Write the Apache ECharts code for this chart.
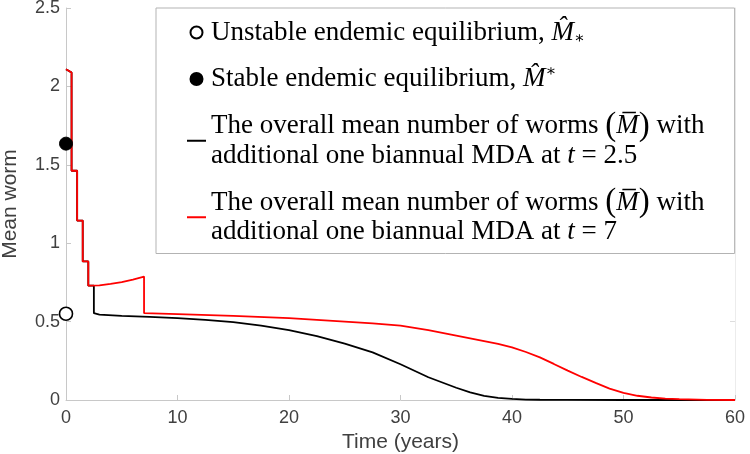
<!DOCTYPE html>
<html>
<head>
<meta charset="utf-8">
<script src="https://cdn.jsdelivr.net/npm/echarts@6/dist/echarts.min.js"></script>
<style>html,body{margin:0;padding:0;background:#fff;}#chart{width:750px;height:454px;}</style>
</head>
<body>
<div id="chart"></div>
<script>
// ---- data ----
const tRed = [0, 0.5, 0.5, 1, 1, 1.5, 1.5, 2, 2, 3, 4, 5, 6, 7, 7, 10, 15, 20, 25, 27.5, 30, 32.5, 35, 37.5, 38.75, 40, 41.25, 42.5, 43.75, 45, 46.25, 47.5, 48.75, 50, 51.25, 52.5, 53.75, 55, 57.5, 60];
const yRed = [2.11, 2.088, 1.462, 1.462, 1.144, 1.144, 0.884, 0.884, 0.729, 0.731, 0.74, 0.752, 0.768, 0.787, 0.554, 0.548, 0.536, 0.522, 0.50, 0.489, 0.474, 0.446, 0.411, 0.376, 0.358, 0.336, 0.306, 0.272, 0.23, 0.187, 0.147, 0.109, 0.073, 0.045, 0.027, 0.016, 0.009, 0.005, 0.001, 0];
const tBlack = [0, 0.5, 0.5, 1, 1, 1.5, 1.5, 2, 2, 2.5, 2.5, 3, 5, 7.5, 10, 12.5, 15, 17.5, 20, 22.5, 25, 27.5, 30, 32.5, 35, 36.25, 37.5, 38.75, 40, 41.25, 42.5, 45, 50, 55, 60];
const yBlack = [2.11, 2.088, 1.462, 1.462, 1.144, 1.144, 0.884, 0.884, 0.729, 0.730, 0.554, 0.545, 0.537, 0.530, 0.522, 0.511, 0.496, 0.474, 0.446, 0.408, 0.359, 0.304, 0.228, 0.145, 0.078, 0.048, 0.027, 0.014, 0.007, 0.003, 0.0015, 0.0004, 0, 0, 0];
const unstablePoint = [0, 0.55];
const stablePoint = [0, 1.635];
const xTicks = [0, 10, 20, 30, 40, 50, 60];
const yTicks = [0, 0.5, 1, 1.5, 2, 2.5];
const legendNames = [
  'Unstable endemic equilibrium',
  'Stable endemic equilibrium',
  'The overall mean number of worms with additional one biannual MDA at t = 2.5',
  'The overall mean number of worms with additional one biannual MDA at t = 7'
];
const legendRich = [
  '{a|Unstable endemic equilibrium, }{m|M\u0302}{sub|\u2217}',
  '{a|Stable endemic equilibrium, }{m|M\u0302}{sup|\u2217}',
  '{a|The overall mean number of worms }{p|(}{m|M\u0305}{p|)}{a| with}\n{a|additional one biannual MDA at }{m|t}{a| = 2.5}',
  '{a|The overall mean number of worms }{p|(}{m|M\u0305}{p|)}{a| with}\n{a|additional one biannual MDA at }{m|t}{a| = 7}'
];

const pairs = (xs, ys) => xs.map((x, i) => [x, ys[i]]);
const serif = "'Liberation Serif', 'DejaVu Serif', serif";
const sans = "'Liberation Sans', Arimo, Helvetica, Arial, sans-serif";

const chart = echarts.init(document.getElementById('chart'), null, {renderer: 'canvas'});
const axisGray = '#c8c8c8';
chart.setOption({
  animation: false,
  backgroundColor: '#fff',
  grid: {left: 66, right: 15, top: 8, bottom: 54, containLabel: false, outerBoundsMode: 'none'},
  xAxis: {
    type: 'value', min: xTicks[0], max: xTicks[xTicks.length - 1], interval: 10,
    name: 'Time (years)', nameLocation: 'middle', nameGap: 23,
    nameTextStyle: {fontFamily: sans, fontSize: 21, color: '#404040'},
    axisLine: {show: true, lineStyle: {color: axisGray, width: 1}},
    axisTick: {show: true, inside: true, length: 5, lineStyle: {color: axisGray}},
    axisLabel: {fontFamily: sans, fontSize: 18, color: '#404040', margin: 9},
    splitLine: {show: false}
  },
  yAxis: [{
    type: 'value', min: yTicks[0], max: yTicks[yTicks.length - 1], interval: 0.5,
    name: 'Mean worm', nameLocation: 'middle', nameGap: 45, nameRotate: 90,
    nameTextStyle: {fontFamily: sans, fontSize: 21, color: '#404040'},
    axisLine: {show: true, lineStyle: {color: axisGray, width: 1}},
    axisTick: {show: true, inside: true, length: 5, lineStyle: {color: axisGray}},
    axisLabel: {fontFamily: sans, fontSize: 18, color: '#404040', margin: 6},
    splitLine: {show: false}
  }, {
    type: 'value', position: 'right', min: yTicks[0], max: yTicks[yTicks.length - 1], interval: 0.5,
    axisLine: {show: true, lineStyle: {color: '#ececec', width: 1}},
    axisTick: {show: true, inside: true, length: 5, lineStyle: {color: '#dddddd'}},
    axisLabel: {show: false},
    splitLine: {show: false}
  }],
  legend: {
    orient: 'vertical', left: 156, top: 8,
    data: [
      {name: legendNames[0]},
      {name: legendNames[1], itemStyle: {color: '#000', borderColor: '#000'}},
      {name: legendNames[2], itemStyle: {opacity: 0}},
      {name: legendNames[3], itemStyle: {opacity: 0}}
    ],
    itemWidth: 19, itemHeight: 12, itemGap: 17,
    padding: [11, 30, 8, 30],
    borderColor: '#b3b3b3', borderWidth: 1, borderRadius: 0,
    backgroundColor: '#fff',
    selectedMode: false,
    formatter: name => legendRich[legendNames.indexOf(name)],
    textStyle: {
      color: '#000',
      rich: {
        a: {fontFamily: serif, fontSize: 27, lineHeight: 29.5, color: '#000'},
        m: {fontFamily: serif, fontSize: 27, lineHeight: 29.5, fontStyle: 'italic', color: '#000'},
        p: {fontFamily: serif, fontSize: 33, lineHeight: 29.5, color: '#000'},
        sub: {fontFamily: serif, fontSize: 16, lineHeight: 16, verticalAlign: 'bottom', color: '#000'},
        sup: {fontFamily: serif, fontSize: 16, lineHeight: 16, verticalAlign: 'top', color: '#000'}
      }
    }
  },
  series: [
    {
      name: legendNames[2], type: 'line', data: pairs(tBlack, yBlack),
      symbol: 'none', smooth: false, lineStyle: {color: '#000', width: 1.8}, itemStyle: {color: '#000'}, z: 2
    },
    {
      name: legendNames[3], type: 'line', data: pairs(tRed, yRed),
      symbol: 'none', smooth: false, lineStyle: {color: '#ff0000', width: 1.8}, itemStyle: {color: '#ff0000'}, z: 3
    },
    {
      name: legendNames[0], type: 'scatter', data: [unstablePoint], symbol: 'circle', symbolSize: 13, clip: false,
      itemStyle: {color: '#fff', borderColor: '#000', borderWidth: 1.6, opacity: 1}, z: 5
    },
    {
      name: legendNames[1], type: 'scatter', data: [stablePoint], symbol: 'circle', symbolSize: 13, clip: false,
      itemStyle: {color: '#000', borderColor: '#000', borderWidth: 1, opacity: 1}, z: 5
    }
  ]
});
</script>
</body>
</html>
